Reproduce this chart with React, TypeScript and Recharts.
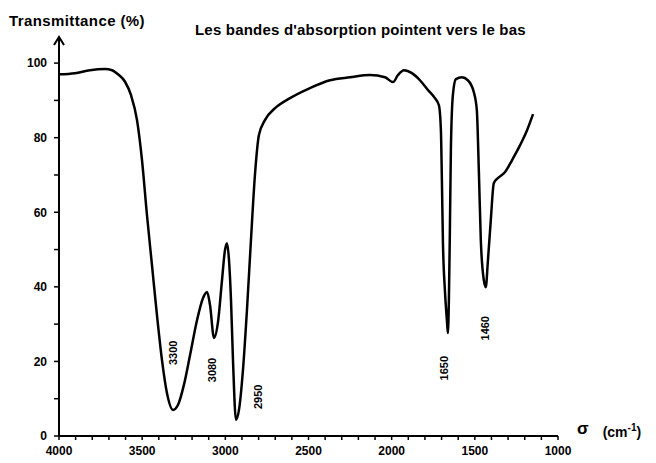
import { Line, LineChart, ReferenceDot, XAxis, YAxis } from 'recharts'

// wavenumber (cm-1) and transmittance (%)
const wavenumbers = [
  4000, 3904, 3814, 3723, 3681, 3645, 3603, 3567, 3531, 3501, 3471, 3441, 3411, 3381, 3351, 3315,
  3285, 3249, 3212, 3170, 3134, 3110, 3092, 3068, 3044, 3020, 3002, 2990, 2978, 2966, 2954, 2936,
  2918, 2894, 2870, 2846, 2822, 2798, 2762, 2701, 2611, 2491, 2371, 2250, 2130, 2040, 1992, 1962,
  1926, 1878, 1830, 1782, 1740, 1716, 1704, 1698, 1692, 1680, 1668, 1662, 1656, 1650, 1644, 1632,
  1614, 1578, 1542, 1506, 1488, 1476, 1464, 1446, 1434, 1422, 1404, 1386, 1360, 1318, 1276, 1228,
  1186, 1150,
]
const transmittance = [
  97, 97.3, 98.1, 98.4, 98.1, 97, 95, 91.4, 84.7, 74, 59.2, 45.8, 32.4, 20.4, 11.5, 7,
  8.3, 13.7, 21.7, 31.1, 37, 38.6, 35.1, 26.3, 30.6, 41.8, 49.9, 51.7, 47.2, 36.5, 20.4, 4.3,
  7, 17.7, 33.8, 52.5, 70, 80.7, 84.7, 87.9, 90.6, 93.3, 95.4, 96.2, 96.8, 96.2, 94.9, 96.8,
  98.1, 97.3, 95.4, 92.8, 90.6, 88.7, 82, 68.6, 52.5, 39.1, 31.1, 27.6, 36.5, 55.2, 76.7, 91.4,
  95.7, 96.2, 95.4, 92.2, 87.4, 71.3, 52.5, 41.8, 39.9, 46.6, 57.9, 67.8, 69.2, 70.8, 74, 78,
  82, 86.3,
]

// band annotations (placed in data coordinates)
const bandLabels = ['3300', '3080', '2950', '1650', '1460']
const bandX = [3315, 3080, 2804, 1685, 1440]
const bandY = [22.3, 17.7, 10.5, 18.2, 28.9]

const xTicks = Array.from({ length: 31 }, (_, i) => 1000 + i * 100)
const yTicks = [0, 10, 20, 30, 40, 50, 60, 70, 80, 90, 100]

const data = wavenumbers.map((w, i) => ({ w, t: transmittance[i] }))

const FONT = '"Liberation Sans", Arial, sans-serif'
const TICK_STYLE = { fontSize: 12, fontWeight: 'bold', fill: '#000', fontFamily: FONT }

const YArrow = (props: any) => {
  const vb = props.viewBox || {}
  const x = vb.x + vb.width
  const y = vb.y
  return (
    <path d={`M${x - 5},${y + 8} L${x},${y} L${x + 5},${y + 8}`} stroke="#000" strokeWidth={2} fill="none" />
  )
}

const BandLabel = (text: string) => (props: any) => {
  const vb = props.viewBox || {}
  const cx = vb.cx ?? vb.x
  const cy = vb.cy ?? vb.y
  return (
    <text
      x={cx}
      y={cy}
      transform={`rotate(-90 ${cx} ${cy})`}
      textAnchor="middle"
      dominantBaseline="central"
      fontSize={11}
      fontWeight="bold"
      fontFamily={FONT}
      fill="#000"
    >
      {text}
    </text>
  )
}

export default function App() {
  return (
    <div style={{ position: 'absolute', left: 0, top: 0, width: 656, height: 463, background: '#fff' }}>
      <div
        style={{
          position: 'absolute', left: 9, top: 12, fontFamily: FONT, fontWeight: 'bold',
          fontSize: 15, letterSpacing: 0.4, color: '#000', whiteSpace: 'nowrap',
        }}
      >
        Transmittance (%)
      </div>
      <div
        style={{
          position: 'absolute', left: 195, top: 21, fontFamily: FONT, fontWeight: 'bold',
          fontSize: 15, letterSpacing: 0.2, color: '#000', whiteSpace: 'nowrap',
        }}
      >
        Les bandes d'absorption pointent vers le bas
      </div>
      <div
        style={{
          position: 'absolute', left: 577, top: 422, fontFamily: FONT, fontWeight: 'bold',
          fontSize: 14, color: '#000', whiteSpace: 'nowrap',
        }}
      >
        <span style={{ fontSize: 17, position: 'relative', top: -3 }}>σ</span>
        <span style={{ marginLeft: 14 }}>
          (cm<sup style={{ fontSize: 10 }}>-1</sup>)
        </span>
      </div>
      <LineChart
        width={656}
        height={463}
        data={data}
        margin={{ top: 37, right: 98, left: 0, bottom: 0 }}
      >
        <XAxis
          dataKey="w"
          type="number"
          domain={[1000, 4000]}
          reversed
          ticks={xTicks}
          interval={0}
          tick={TICK_STYLE}
          tickFormatter={(v: number) => (v % 500 === 0 ? String(v) : '')}
          tickSize={4}
          tickMargin={6}
          height={27}
          axisLine={{ stroke: '#000', strokeWidth: 2 }}
          tickLine={{ stroke: '#000', strokeWidth: 1.5 }}
        />
        <YAxis
          type="number"
          domain={[0, 107]}
          ticks={yTicks}
          interval={0}
          width={59}
          tick={TICK_STYLE}
          tickFormatter={(v: number) => (v % 20 === 0 ? String(v) : '')}
          tickSize={5}
          tickMargin={7}
          axisLine={{ stroke: '#000', strokeWidth: 2 }}
          tickLine={{ stroke: '#000', strokeWidth: 1.5 }}
          label={<YArrow />}
        />
        <Line
          type="monotone"
          dataKey="t"
          stroke="#000"
          strokeWidth={2.5}
          dot={false}
          isAnimationActive={false}
        />
        {bandLabels.map((b, i) => (
          <ReferenceDot
            key={b}
            x={bandX[i]}
            y={bandY[i]}
            r={0}
            stroke="none"
            fill="none"
            label={BandLabel(b)}
          />
        ))}
      </LineChart>
    </div>
  )
}
